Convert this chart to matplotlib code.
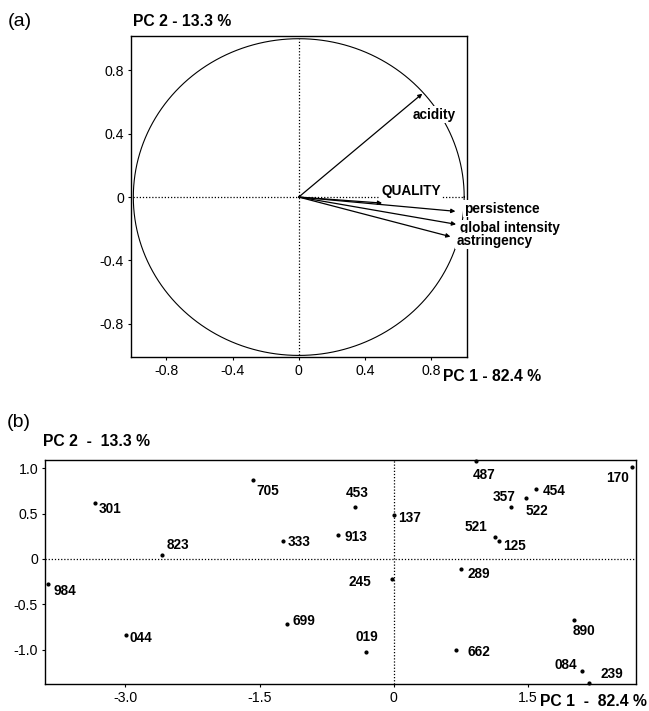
import numpy as np
import matplotlib
matplotlib.use("Agg")
import matplotlib.pyplot as plt

plt.rcParams['font.family'] = ['Liberation Sans', 'DejaVu Sans']

# ---------------- data: panel (a) loadings ----------------
var_names = ["acidity", "QUALITY", "persistence", "global intensity", "astringency"]
load_pc1 = [0.747, 0.504, 0.947, 0.951, 0.917]
load_pc2 = [0.653, -0.038, -0.090, -0.172, -0.250]
a_ticks = [-0.8, -0.4, 0, 0.4, 0.8]
a_ticklabels = ["-0.8", "-0.4", "0", "0.4", "0.8"]

# ---------------- data: panel (b) scores ----------------
sample_ids = ["487", "170", "705", "453", "301", "137", "357", "522", "454",
              "521", "125", "913", "333", "823", "984", "245", "289", "699",
              "044", "019", "662", "890", "084", "239"]
score_pc1 = [0.917, 2.67, -1.57, -0.43, -3.34, 0.00, 1.31, 1.484, 1.596,
             1.138, 1.174, -0.624, -1.24, -2.59, -3.87, -0.017, 0.754, -1.19,
             -2.99, -0.31, 0.70, 2.02, 2.11, 2.18]
score_pc2 = [1.084, 1.011, 0.868, 0.57, 0.62, 0.485, 0.577, 0.676, 0.768,
             0.246, 0.198, 0.265, 0.198, 0.044, -0.276, -0.22, -0.11, -0.72,
             -0.838, -1.03, -1.01, -0.673, -1.24, -1.364]
bx_ticks = [-3.0, -1.5, 0, 1.5]
bx_ticklabels = ["-3.0", "-1.5", "0", "1.5"]
by_ticks = [1.0, 0.5, 0, -0.5, -1.0]
by_ticklabels = ["1.0", "0.5", "0", "-0.5", "-1.0"]

# ---------------- layout / style ----------------
W, H = 649, 711
fig = plt.figure(figsize=(W / 100, H / 100), dpi=100)

def fx(px):
    return px / W

def fy(py):
    return 1 - py / H

LBL = dict(fontsize=9.8, fontweight='bold')
TICKFS = 10.2

def style_axes(ax):
    for s in ax.spines.values():
        s.set_linewidth(1.0)
    ax.tick_params(direction='out', length=2, width=0.8, labelsize=TICKFS, pad=3)

# ---------- Panel (a) ----------
axa = fig.add_axes([fx(131), fy(357), fx(467) - fx(131), fy(35.7) - fy(357)])
style_axes(axa)
axa.set_xlim(-1.014, 1.017)
axa.set_ylim(-1.01, 1.019)
th = np.linspace(0, 2 * np.pi, 721)
axa.plot(np.cos(th), np.sin(th), color='k', lw=0.8, zorder=2)
axa.plot([-1, 1], [0, 0], color='k', lw=0.9, ls=(0, (1, 1.5)), zorder=1)
axa.plot([0, 0], [-1, 1], color='k', lw=0.9, ls=(0, (1, 1.5)), zorder=1)
for x, y in zip(load_pc1, load_pc2):
    axa.annotate('', xy=(x, y), xytext=(0, 0),
                 arrowprops=dict(arrowstyle='-|>', lw=0.9, color='k',
                                 mutation_scale=6, shrinkA=0, shrinkB=0),
                 zorder=3)
a_label_pos = {
    "acidity": (0.817, 0.52, 'center'),
    "QUALITY": (0.678, 0.040, 'center'),
    "persistence": (0.999, -0.073, 'left'),
    "global intensity": (0.975, -0.196, 'left'),
    "astringency": (0.953, -0.278, 'left'),
}
for name in var_names:
    tx, ty, ha = a_label_pos[name]
    axa.text(tx, ty, name, ha=ha, va='center', zorder=4, **LBL,
             bbox=dict(facecolor='white', edgecolor='none', pad=1.0))
axa.set_xticks(a_ticks)
axa.set_xticklabels(a_ticklabels)
axa.set_yticks(a_ticks)
axa.set_yticklabels(a_ticklabels)

fig.text(fx(8), fy(21), "(a)", fontsize=14, ha='left', va='center')
fig.text(fx(133), fy(22), "PC 2 - 13.3 %", fontsize=11.3, fontweight='bold',
         ha='left', va='center')
fig.text(fx(443), fy(376), "PC 1 - 82.4 %", fontsize=11.3, fontweight='bold',
         ha='left', va='center')

# ---------- Panel (b) ----------
axb = fig.add_axes([fx(45), fy(684), fx(636) - fx(45), fy(460) - fy(684)])
style_axes(axb)
axb.set_xlim(-3.90, 2.71)
axb.set_ylim(-1.38, 1.09)
axb.axhline(0, color='k', lw=0.9, ls=(0, (1, 1.5)), zorder=1)
axb.axvline(0, color='k', lw=0.9, ls=(0, (1, 1.5)), zorder=1)
axb.plot(score_pc1, score_pc2, 'o', color='k', markersize=2.0, zorder=3,
         clip_on=False)
b_offsets = {
    "487": (8, -14), "170": (-15, -11), "705": (14, -11), "453": (2, 14),
    "301": (15, -6), "137": (16, -3), "357": (-7, 10), "522": (10, -13),
    "454": (18, -2), "521": (-20, 10), "125": (16, -5), "913": (18, -2),
    "333": (16, -1), "823": (16, 10), "984": (17, -7), "245": (-32, -3),
    "289": (18, -5), "699": (17, 3), "044": (15, -3), "019": (1, 15),
    "662": (23, -2), "890": (10, -11), "084": (-17, 6), "239": (23, 9),
}
for sid, x, y in zip(sample_ids, score_pc1, score_pc2):
    dx, dy = b_offsets[sid]
    axb.annotate(sid, xy=(x, y), xytext=(dx, dy), textcoords='offset pixels',
                 ha='center', va='center', zorder=4, **LBL)
axb.set_xticks(bx_ticks)
axb.set_xticklabels(bx_ticklabels)
axb.set_yticks(by_ticks)
axb.set_yticklabels(by_ticklabels)

fig.text(fx(7), fy(423), "(b)", fontsize=14, ha='left', va='center')
fig.text(fx(43), fy(442), "PC 2  -  13.3 %", fontsize=11.3, fontweight='bold',
         ha='left', va='center')
fig.text(fx(647), fy(702), "PC 1  -  82.4 %", fontsize=11.3, fontweight='bold',
         ha='right', va='center')

fig.savefig("out.png", dpi=100)
